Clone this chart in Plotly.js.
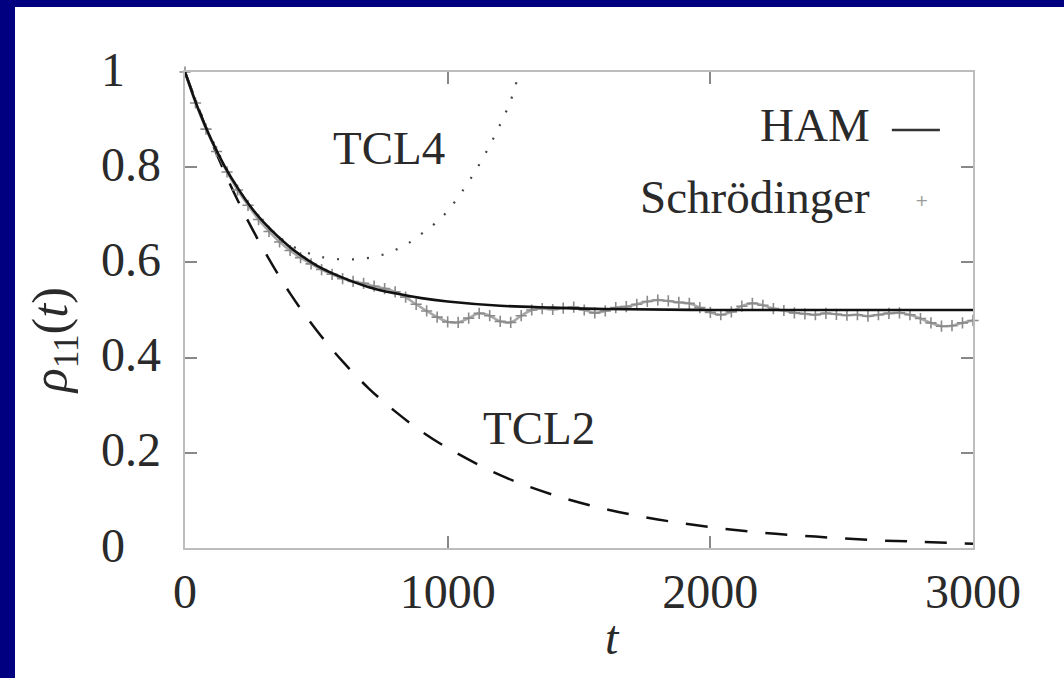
<!DOCTYPE html>
<html>
<head>
<meta charset="utf-8">
<script src="https://cdn.plot.ly/plotly-3.0.1.min.js"></script>
<style>
html,body{margin:0;padding:0;background:#000080;width:1064px;height:678px;overflow:hidden;}
#chart{position:absolute;left:15px;top:7px;width:1049px;height:671px;background:#fff;}
</style>
</head>
<body>
<div id="chart"></div>
<script>
// HAM solution
const hamT = [0,50,100,150,200,250,300,400,500,600,700,800,900,1000,1200,1400,1600,2000,2500,3000];
const hamV = [1.0,0.923,0.858,0.803,0.757,0.717,0.684,0.632,0.594,0.568,0.548,0.535,0.525,0.518,0.509,0.505,0.502,0.500,0.500,0.500];

// TCL2
const tcl2T = [0,100,200,300,400,500,600,700,800,900,1000,1200,1400,1600,1800,2000,2200,2400,2600,2800,3000];
const tcl2V = [1.0,0.855,0.731,0.626,0.535,0.458,0.392,0.335,0.287,0.245,0.210,0.153,0.112,0.082,0.060,0.044,0.032,0.024,0.017,0.013,0.009];

// TCL4
const tcl4T = [0,100,200,300,400,500,560,620,680,740,800,850,900,950,1000,1050,1100,1150,1200,1240,1270];
const tcl4V = [1.0,0.862,0.757,0.683,0.637,0.614,0.608,0.606,0.608,0.614,0.626,0.640,0.660,0.681,0.708,0.745,0.787,0.835,0.890,0.940,0.995];

// Schroedinger (exact)
const schT = [0,40,80,120,160,200,240,280,320,360,400,440,480,520,560,600,640,680,720,760,
  800,840,880,920,960,1000,1040,1080,1120,1160,1200,1240,1280,1320,1360,1400,1440,1480,1520,1560,
  1600,1640,1680,1720,1760,1800,1840,1880,1920,1960,2000,2040,2080,2120,2160,2200,2240,2280,2320,2360,
  2400,2440,2480,2520,2560,2600,2640,2680,2720,2760,2800,2840,2880,2920,2960,3000];
const schV = [1.0,0.935,0.88,0.833,0.79,0.752,0.72,0.69,0.665,0.643,0.625,0.61,0.597,0.585,0.575,0.566,0.56,0.556,0.55,0.545,
  0.538,0.527,0.512,0.498,0.485,0.475,0.474,0.483,0.493,0.488,0.476,0.474,0.488,0.5,0.503,0.501,0.504,0.506,0.5,0.494,
  0.498,0.505,0.507,0.512,0.518,0.521,0.519,0.516,0.514,0.505,0.495,0.49,0.496,0.508,0.514,0.51,0.503,0.499,0.494,0.492,
  0.49,0.493,0.491,0.489,0.49,0.487,0.49,0.493,0.494,0.49,0.482,0.473,0.466,0.467,0.473,0.478];

const xTicks = [0,1000,2000,3000];
const xTickText = ['0','1000','2000','3000'];
const yTicks = [0,0.2,0.4,0.6,0.8,1];
const yTickText = ['0','0.2','0.4','0.6','0.8','1'];

const serif = 'Liberation Serif, Times New Roman, serif';
const txt = '#2a2a2a';

const traces = [
  {x: tcl2T, y: tcl2V, mode:'lines', line:{color:'#111', width:2.5, dash:'22px,18px', shape:'spline'}, showlegend:false},
  {x: tcl4T, y: tcl4V, mode:'lines', line:{color:'#444', width:2.2, dash:'2px,13px', shape:'spline'}, showlegend:false},
  {x: schT, y: schV, mode:'lines+markers', line:{color:'#a8a8a8', width:2.5, shape:'spline'},
    marker:{symbol:'cross-thin-open', size:8, color:'#8a8a8a', line:{color:'#8a8a8a', width:1.6}}, cliponaxis:false, showlegend:false},
  {x: hamT, y: hamV, mode:'lines', line:{color:'#111', width:2.6, shape:'spline'}, showlegend:false}
];

const annotations = [];
yTicks.forEach((v,i)=>{
  annotations.push({xref:'paper', yref:'y', x:0, y:v, xshift:-86, yshift:3, xanchor:'left', yanchor:'middle',
    text:yTickText[i], showarrow:false, font:{family:serif, size:48, color:txt}});
});
annotations.push(
  {xref:'x', yref:'y', x:777, y:0.84, text:'TCL4', showarrow:false, font:{family:serif, size:47, color:txt}},
  {xref:'x', yref:'y', x:1348, y:0.252, text:'TCL2', showarrow:false, font:{family:serif, size:47, color:txt}},
  {xref:'paper', yref:'paper', x:0.872, y:0.889, xanchor:'right', yanchor:'middle', text:'HAM', showarrow:false, font:{family:serif, size:47, color:txt}},
  {xref:'paper', yref:'paper', x:0.872, y:0.737, xanchor:'right', yanchor:'middle', text:'Schrödinger', showarrow:false, font:{family:serif, size:47, color:txt}},
  {xref:'paper', yref:'paper', x:0.935, y:0.729, xanchor:'center', yanchor:'middle', text:'+', showarrow:false, font:{family:'DejaVu Sans', size:16, color:'#999'}},
  {xref:'paper', yref:'paper', x:0.542, y:-0.187, xanchor:'center', yanchor:'middle', text:'<i>t</i>', showarrow:false, font:{family:serif, size:48, color:txt}},
  {xref:'paper', yref:'paper', x:-0.166, y:0.435, xanchor:'center', yanchor:'middle', textangle:-90, text:'<i>ρ</i><sub>11</sub>(<i>t</i>)', showarrow:false, font:{family:serif, size:50, color:txt}}
);

const layout = {
  width:1049, height:671,
  margin:{l:170, r:91, t:65, b:130},
  paper_bgcolor:'#fff', plot_bgcolor:'#fff',
  showlegend:false,
  xaxis:{range:[0,3000], tickvals:xTicks, ticktext:xTickText, ticks:'inside', ticklen:12, tickwidth:2, tickcolor:'#888',
    showline:true, linecolor:'#bdbdbd', linewidth:2, mirror:'allticks', showgrid:false, zeroline:false,
    tickfont:{family:serif, size:48, color:txt}},
  yaxis:{range:[0,1], tickvals:yTicks, showticklabels:false, ticks:'inside', ticklen:12, tickwidth:2, tickcolor:'#888',
    showline:true, linecolor:'#bdbdbd', linewidth:2, mirror:'allticks', showgrid:false, zeroline:false},
  shapes:[
    {type:'line', xref:'paper', yref:'paper', x0:0.897, x1:0.958, y0:0.878, y1:0.878, line:{color:'#333', width:2.5}}
  ],
  annotations: annotations
};

Plotly.newPlot('chart', traces, layout, {staticPlot:true, displayModeBar:false});
</script>
</body>
</html>
